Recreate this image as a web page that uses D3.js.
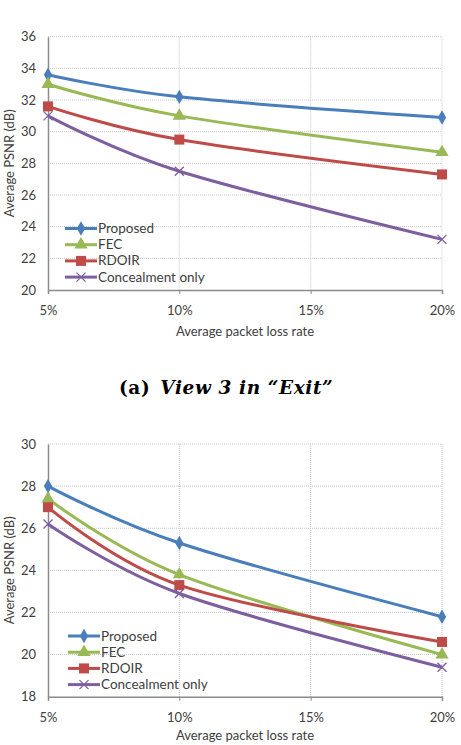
<!DOCTYPE html>
<html>
<head>
<meta charset="utf-8">
<script src="https://cdn.jsdelivr.net/npm/d3@7"></script>
<style>
  body { margin: 0; background: #fff; }
  svg { display: block; }
  .tick text { font-family: Lato, "Open Sans", sans-serif; font-size: 13px; fill: #404040; }
  .axistitle { font-family: Lato, "Open Sans", sans-serif; font-size: 13px; fill: #404040; }
  .legend text { font-family: Lato, "Open Sans", sans-serif; font-size: 13.5px; fill: #404040; }
  .caption { font-family: "DejaVu Serif", "Liberation Serif", serif; font-size: 18.5px; letter-spacing: 0.6px; font-weight: bold; fill: #000; }
</style>
</head>
<body>
<svg width="461" height="745"></svg>
<script>
var lossRates = [5, 10, 20];
var xTicks = [5, 10, 15, 20];
var seriesNames = ["Proposed", "FEC", "RDOIR", "Concealment only"];

// view 3 in "Exit"
var exitProposed = [33.6, 32.2, 30.9];
var exitFEC = [33.0, 31.0, 28.7];
var exitRDOIR = [31.6, 29.5, 27.3];
var exitConceal = [31.0, 27.5, 23.2];
var exitYTicks = [20, 22, 24, 26, 28, 30, 32, 34, 36];

// second view
var secondProposed = [28.0, 25.3, 21.8];
var secondFEC = [27.4, 23.8, 20.0];
var secondRDOIR = [27.0, 23.3, 20.6];
var secondConceal = [26.2, 22.9, 19.4];
var secondYTicks = [18, 20, 22, 24, 26, 28, 30];

var colors = ["#4a7ebb", "#98b954", "#be4b48", "#7d5fa0"];
var markers = ["diamond", "triangle", "square", "cross"];

var svg = d3.select("svg");

function marker(sel, type, color) {
  if (type == "cross") {
    sel.append("path")
      .attr("d", "M-4.5,-4.5L4.5,4.5M-4.5,4.5L4.5,-4.5")
      .attr("stroke", color).attr("stroke-width", 1.3).attr("fill", "none");
  } else {
    var sym = type == "diamond" ? d3.symbolDiamond : type == "triangle" ? d3.symbolTriangle : d3.symbolSquare;
    var size = type == "diamond" ? 60 : type == "triangle" ? 75 : 100;
    sel.append("path")
      .attr("d", d3.symbol().type(sym).size(size)())
      .attr("fill", color);
  }
}

function drawChart(opts) {
  var left = 48, right = 442;
  var x = d3.scaleLinear().domain([5, 20]).range([left, right]);
  var y = d3.scaleLinear().domain(opts.yDomain).range([opts.bottom, opts.top]);
  var g = svg.append("g");

  // grid
  g.selectAll(".hgrid").data(opts.yTicks.slice(1)).enter().append("line")
    .attr("x1", left).attr("x2", right)
    .attr("y1", function(d) { return y(d); }).attr("y2", function(d) { return y(d); })
    .attr("stroke", "#c8c8c8").attr("stroke-width", 1).attr("stroke-dasharray", "1,1");
  g.selectAll(".vgrid").data(xTicks.slice(1)).enter().append("line")
    .attr("x1", function(d) { return x(d); }).attr("x2", function(d) { return x(d); })
    .attr("y1", opts.top).attr("y2", opts.bottom)
    .attr("stroke", "#c8c8c8").attr("stroke-width", 1).attr("stroke-dasharray", "1,1");

  // axes
  var ya = g.append("g").attr("transform", "translate(" + left + ",0)")
    .call(d3.axisLeft(y).tickValues(opts.yTicks).tickSize(0).tickPadding(12));
  ya.select(".domain").attr("stroke", "#8c8c8c").attr("stroke-width", 1.5);
  var xa = g.append("g").attr("transform", "translate(0," + opts.bottom + ")")
    .call(d3.axisBottom(x).tickValues(xTicks).tickSize(4).tickPadding(12)
      .tickFormat(function(d) { return d + "%"; }));
  xa.select(".domain").attr("stroke", "#8c8c8c").attr("stroke-width", 1.5);
  xa.selectAll(".tick line").attr("stroke", "#8c8c8c");

  g.append("text").attr("class", "axistitle")
    .attr("x", 245).attr("y", opts.bottom + opts.titleGap)
    .attr("text-anchor", "middle")
    .text("Average packet loss rate");
  g.append("text").attr("class", "axistitle")
    .attr("transform", "translate(14," + ((opts.top + opts.bottom) / 2) + ") rotate(-90)")
    .attr("text-anchor", "middle")
    .text("Average PSNR (dB)");

  var line = d3.line()
    .x(function(d, i) { return x(lossRates[i]); })
    .y(function(d) { return y(d); })
    .curve(d3.curveCardinal.tension(0));

  opts.series.forEach(function(vals, k) {
    g.append("path").datum(vals)
      .attr("d", line)
      .attr("fill", "none").attr("stroke", colors[k]).attr("stroke-width", 3);
    vals.forEach(function(v, i) {
      var m = g.append("g").attr("transform", "translate(" + x(lossRates[i]) + "," + y(v) + ")");
      marker(m, markers[k], colors[k]);
    });
  });

  // legend
  var lg = g.append("g").attr("class", "legend");
  seriesNames.forEach(function(name, k) {
    var ly = opts.legendY + k * 16.2;
    lg.append("line").attr("x1", opts.legendX).attr("x2", opts.legendX + 32)
      .attr("y1", ly).attr("y2", ly)
      .attr("stroke", colors[k]).attr("stroke-width", 3);
    var m = lg.append("g").attr("transform", "translate(" + (opts.legendX + 16) + "," + ly + ")");
    marker(m, markers[k], colors[k]);
    lg.append("text").attr("x", opts.legendX + 33).attr("y", ly + 4.5).text(name);
  });
}

drawChart({
  top: 36.7, bottom: 290, yDomain: [20, 36], yTicks: exitYTicks,
  series: [exitProposed, exitFEC, exitRDOIR, exitConceal],
  legendX: 65, legendY: 228.5, titleGap: 46
});

drawChart({
  top: 444, bottom: 696.7, yDomain: [18, 30], yTicks: secondYTicks,
  series: [secondProposed, secondFEC, secondRDOIR, secondConceal],
  legendX: 68, legendY: 636, titleGap: 43.5
});

// caption for the first panel
var cap = svg.append("text").attr("class", "caption").attr("x", 119).attr("y", 394);
cap.append("tspan").text("(a) ");
cap.append("tspan").attr("font-style", "italic").attr("dx", 3).text("View 3 in \u201cExit\u201d");
</script>
</body>
</html>
